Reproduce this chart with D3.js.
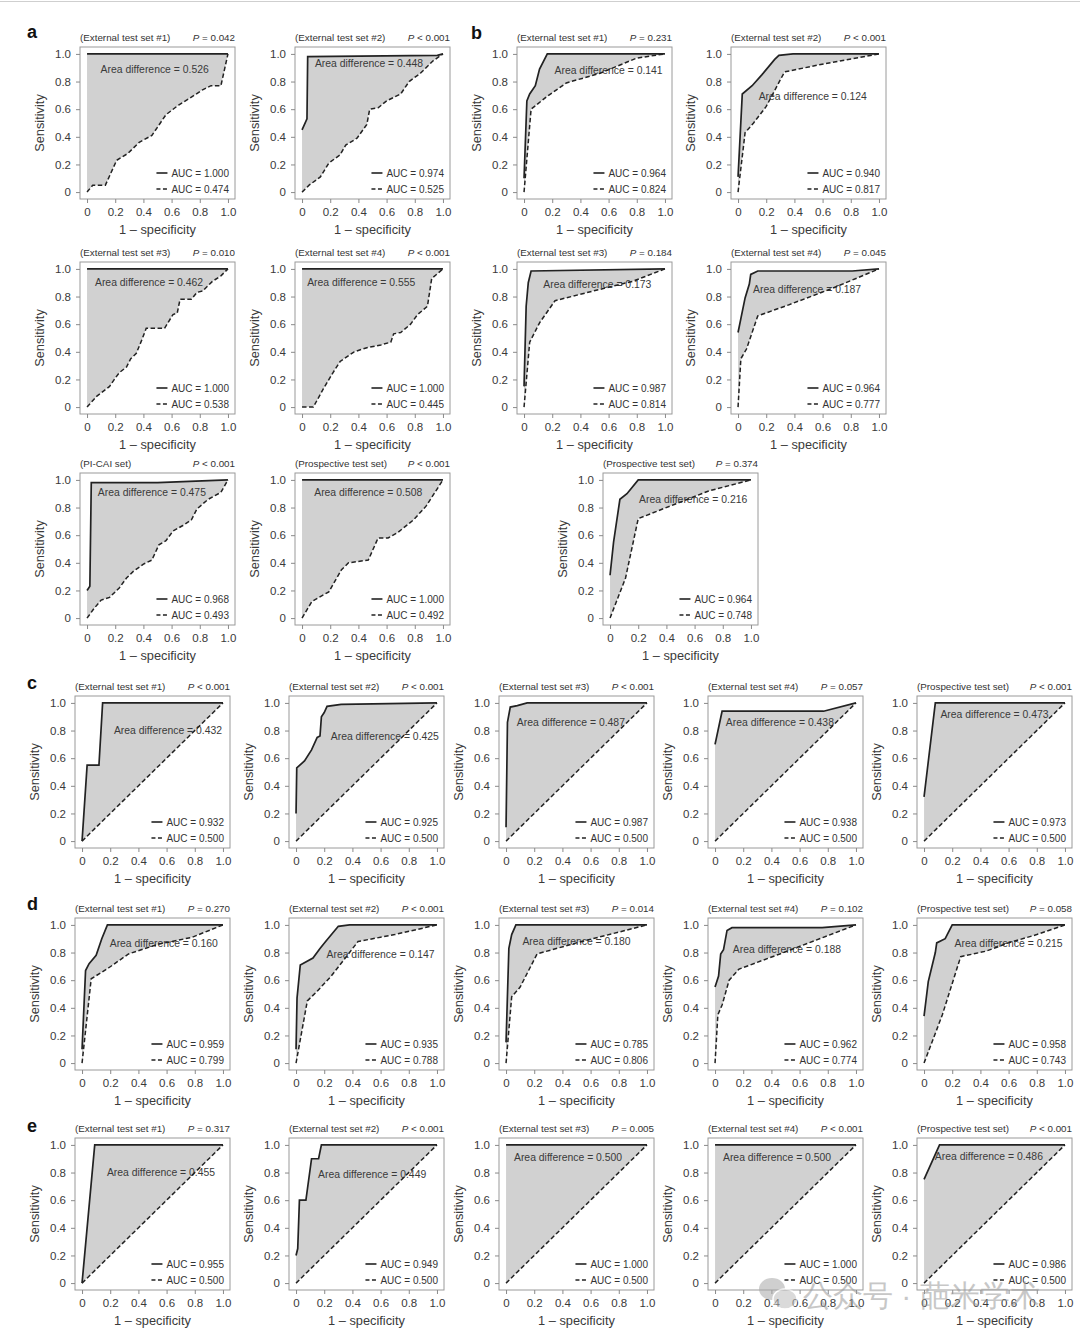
<!DOCTYPE html>
<html>
<head>
<meta charset="utf-8">
<script src="https://cdn.jsdelivr.net/npm/d3@7/dist/d3.min.js"></script>
<style>
body { margin: 0; background: #fff; }
text { font-family: "Liberation Sans", Arial, sans-serif; }
</style>
</head>
<body>
<svg id="fig" width="1080" height="1332"></svg>
<script>
// ---- panel texts ----
var titles = [
	"(External test set #1)", "(External test set #2)", "(External test set #3)", "(External test set #4)", "(PI-CAI set)", "(Prospective test set)",
	"(External test set #1)", "(External test set #2)", "(External test set #3)", "(External test set #4)", "(Prospective test set)",
	"(External test set #1)", "(External test set #2)", "(External test set #3)", "(External test set #4)", "(Prospective test set)",
	"(External test set #1)", "(External test set #2)", "(External test set #3)", "(External test set #4)", "(Prospective test set)",
	"(External test set #1)", "(External test set #2)", "(External test set #3)", "(External test set #4)", "(Prospective test set)"
];
var pValues = [
	"= 0.042", "< 0.001", "= 0.010", "< 0.001", "< 0.001", "< 0.001",
	"= 0.231", "< 0.001", "= 0.184", "= 0.045", "= 0.374",
	"< 0.001", "< 0.001", "< 0.001", "= 0.057", "< 0.001",
	"= 0.270", "< 0.001", "= 0.014", "= 0.102", "= 0.058",
	"= 0.317", "< 0.001", "= 0.005", "< 0.001", "< 0.001"
];
var aucSolid = [1.000, 0.974, 1.000, 1.000, 0.968, 1.000,
	0.964, 0.940, 0.987, 0.964, 0.964,
	0.932, 0.925, 0.987, 0.938, 0.973,
	0.959, 0.935, 0.785, 0.962, 0.958,
	0.955, 0.949, 1.000, 1.000, 0.986];
var aucDashed = [0.474, 0.525, 0.538, 0.445, 0.493, 0.492,
	0.824, 0.817, 0.814, 0.777, 0.748,
	0.500, 0.500, 0.500, 0.500, 0.500,
	0.799, 0.788, 0.806, 0.774, 0.743,
	0.500, 0.500, 0.500, 0.500, 0.500];
var areaDiff = [0.526, 0.448, 0.462, 0.555, 0.475, 0.508,
	0.141, 0.124, 0.173, 0.187, 0.216,
	0.432, 0.425, 0.487, 0.438, 0.473,
	0.160, 0.147, 0.180, 0.188, 0.215,
	0.455, 0.449, 0.500, 0.500, 0.486];

// ---- ROC points [1 - specificity, sensitivity] ----
var perfect = [[0, 1], [1, 1]];
var chance = [[0, 0], [1, 1]];

var dashA1 = [[0,0],[0.04,0.05],[0.13,0.05],[0.21,0.23],[0.29,0.28],[0.37,0.36],[0.46,0.41],[0.56,0.56],[0.65,0.63],[0.73,0.68],[0.82,0.74],[0.88,0.77],[0.95,0.77],[1,1]];
var solidA2 = [[0,0.45],[0.035,0.53],[0.04,0.98],[0.96,0.99],[1,1]];
var dashA2 = [[0,0],[0.05,0.05],[0.13,0.11],[0.19,0.21],[0.27,0.27],[0.31,0.34],[0.39,0.39],[0.46,0.49],[0.48,0.6],[0.54,0.61],[0.6,0.66],[0.7,0.71],[0.76,0.8],[0.84,0.86],[0.93,0.95],[1,1]];
var dashA3 = [[0,0],[0.07,0.08],[0.16,0.15],[0.2,0.21],[0.23,0.25],[0.28,0.29],[0.31,0.35],[0.35,0.39],[0.39,0.49],[0.42,0.57],[0.55,0.57],[0.61,0.67],[0.64,0.68],[0.66,0.78],[0.74,0.78],[0.78,0.83],[0.82,0.84],[0.89,0.91],[0.95,0.95],[1,1]];
var dashA4 = [[0,0],[0.08,0],[0.15,0.13],[0.22,0.25],[0.27,0.33],[0.37,0.4],[0.46,0.43],[0.56,0.45],[0.63,0.47],[0.65,0.53],[0.7,0.54],[0.77,0.6],[0.82,0.67],[0.89,0.73],[0.92,0.93],[1,1]];
var solidA5 = [[0,0.2],[0.02,0.23],[0.03,0.98],[0.5,0.98],[1,1]];
var dashA5 = [[0,0],[0.05,0.07],[0.1,0.13],[0.16,0.15],[0.23,0.22],[0.28,0.29],[0.33,0.34],[0.4,0.39],[0.46,0.42],[0.51,0.53],[0.56,0.56],[0.61,0.63],[0.68,0.67],[0.74,0.71],[0.78,0.79],[0.86,0.86],[0.95,0.91],[1,1]];
var dashA6 = [[0,0],[0.07,0.12],[0.19,0.19],[0.28,0.35],[0.33,0.4],[0.47,0.42],[0.54,0.58],[0.61,0.58],[0.68,0.62],[0.79,0.71],[0.88,0.81],[1,1]];

var solidB1 = [[0,0.1],[0.02,0.66],[0.04,0.71],[0.08,0.77],[0.11,0.89],[0.165,1],[1,1]];
var dashB1 = [[0,0],[0.05,0.6],[0.16,0.69],[0.3,0.79],[0.54,0.86],[0.8,0.97],[1,1]];
var solidB2 = [[0,0.11],[0.03,0.71],[0.1,0.77],[0.17,0.85],[0.26,0.96],[0.29,0.99],[0.39,1],[1,1]];
var dashB2 = [[0,0],[0.05,0.43],[0.11,0.5],[0.2,0.62],[0.33,0.87],[0.62,0.93],[1,1]];
var solidB3 = [[0,0.15],[0.015,0.73],[0.03,0.9],[0.05,0.985],[1,1]];
var dashB3 = [[0,0],[0.04,0.47],[0.11,0.61],[0.22,0.77],[0.49,0.84],[0.77,0.91],[1,1]];
var solidB4 = [[0,0.54],[0.02,0.64],[0.05,0.79],[0.08,0.89],[0.09,0.96],[0.14,0.985],[0.81,0.985],[1,1]];
var dashB4 = [[0,0],[0.02,0.35],[0.06,0.42],[0.14,0.66],[0.36,0.74],[0.67,0.86],[1,1]];
var solidB5 = [[0,0.31],[0.025,0.55],[0.07,0.86],[0.12,0.9],[0.2,1],[1,1]];
var dashB5 = [[0,0],[0.11,0.29],[0.2,0.72],[0.45,0.82],[0.7,0.92],[1,1]];

var solidC1 = [[0,0],[0.036,0.55],[0.12,0.55],[0.146,1],[1,1]];
var solidC2 = [[0,0.2],[0.005,0.53],[0.06,0.58],[0.11,0.66],[0.15,0.75],[0.17,0.76],[0.18,0.9],[0.2,0.93],[0.22,0.975],[0.32,0.99],[1,1]];
var solidC3 = [[0,0.1],[0.01,0.86],[0.03,0.97],[0.08,0.98],[0.15,1],[1,1]];
var solidC4 = [[0,0.7],[0.05,0.94],[0.77,0.94],[1,1]];
var solidC5 = [[0,0.32],[0.08,1],[1,1]];

var solidD1 = [[0,0.1],[0.025,0.67],[0.05,0.72],[0.1,0.78],[0.14,0.9],[0.18,1],[1,1]];
var dashD1 = [[0,0],[0.065,0.61],[0.19,0.69],[0.33,0.79],[0.54,0.86],[0.78,0.91],[1,1]];
var solidD2 = [[0,0.1],[0.007,0.47],[0.03,0.71],[0.12,0.76],[0.17,0.83],[0.21,0.88],[0.3,0.99],[0.38,1],[1,1]];
var dashD2 = [[0,0],[0.08,0.45],[0.15,0.52],[0.25,0.63],[0.44,0.88],[0.7,0.93],[1,1]];
var solidD3 = [[0,0.15],[0.02,0.83],[0.04,0.93],[0.07,1],[1,1]];
var dashD3 = [[0,0],[0.04,0.48],[0.1,0.55],[0.22,0.79],[0.5,0.87],[1,1]];
var solidD4 = [[0,0.55],[0.025,0.63],[0.04,0.79],[0.06,0.82],[0.085,0.96],[0.12,0.98],[0.76,0.98],[1,1]];
var dashD4 = [[0,0],[0.02,0.35],[0.05,0.42],[0.1,0.6],[0.17,0.68],[0.46,0.79],[1,1]];
var solidD5 = [[0,0.34],[0.03,0.59],[0.08,0.8],[0.09,0.87],[0.15,0.9],[0.2,1],[1,1]];
var dashD5 = [[0,0],[0.13,0.35],[0.26,0.77],[0.44,0.81],[0.6,0.87],[0.8,0.93],[1,1]];

var solidE1 = [[0,0],[0.09,1],[1,1]];
var solidE2 = [[0,0.2],[0.012,0.25],[0.024,0.6],[0.07,0.6],[0.11,0.9],[0.16,0.9],[0.18,1],[1,1]];
var solidE5 = [[0,0.75],[0.11,1],[1,1]];

var solidCurves = [perfect, solidA2, perfect, perfect, solidA5, perfect,
	solidB1, solidB2, solidB3, solidB4, solidB5,
	solidC1, solidC2, solidC3, solidC4, solidC5,
	solidD1, solidD2, solidD3, solidD4, solidD5,
	solidE1, solidE2, perfect, perfect, solidE5];
var dashedCurves = [dashA1, dashA2, dashA3, dashA4, dashA5, dashA6,
	dashB1, dashB2, dashB3, dashB4, dashB5,
	chance, chance, chance, chance, chance,
	dashD1, dashD2, dashD3, dashD4, dashD5,
	chance, chance, chance, chance, chance];

var axisTicks = [0, 0.2, 0.4, 0.6, 0.8, 1.0];

// ---- layout (frame top-left of each panel, label spots in data units) ----
var panelX = [80, 295, 80, 295, 80, 295,
	517, 731, 517, 731, 603,
	75, 289, 499, 708, 917,
	75, 289, 499, 708, 917,
	75, 289, 499, 708, 917];
var panelY = [47, 47, 262, 262, 473, 473,
	47, 47, 262, 262, 473,
	696, 696, 696, 696, 696,
	918, 918, 918, 918, 918,
	1138, 1138, 1138, 1138, 1138];
var diffPos = [[0.48,0.89],[0.475,0.93],[0.44,0.9],[0.42,0.9],[0.46,0.91],[0.47,0.91],
	[0.6,0.88],[0.53,0.69],[0.52,0.89],[0.49,0.85],[0.59,0.86],
	[0.61,0.8],[0.63,0.76],[0.46,0.86],[0.46,0.86],[0.5,0.92],
	[0.58,0.87],[0.6,0.79],[0.5,0.88],[0.51,0.82],[0.6,0.87],
	[0.56,0.8],[0.54,0.79],[0.44,0.91],[0.44,0.91],[0.46,0.92]];
var letters = [["a", 27, 38], ["b", 471, 39], ["c", 27, 689], ["d", 27, 910], ["e", 27, 1132]];

var svg = d3.select("#fig");
var W = 155, H = 152;
var f3 = d3.format(".3f");
var tickFmt = function(d) { return d === 0 ? "0" : d3.format(".1f")(d); };

svg.append("rect").attr("width", 1080).attr("height", 1332).attr("fill", "#fff");
svg.append("line").attr("x1", 0).attr("x2", 1080).attr("y1", 1.5).attr("y2", 1.5)
	.attr("stroke", "#cfcfcf").attr("stroke-width", 1);

for (var i = 0; i < titles.length; i++) {
	drawPanel(i);
}

function drawPanel(i) {
	var g = svg.append("g").attr("transform", "translate(" + panelX[i] + "," + panelY[i] + ")");
	var x = d3.scaleLinear().domain([-0.05, 1.05]).range([0, W]);
	var y = d3.scaleLinear().domain([-0.05, 1.05]).range([H, 0]);
	var line = d3.line().x(function(d) { return x(d[0]); }).y(function(d) { return y(d[1]); });

	var solid = solidCurves[i], dashed = dashedCurves[i];
	// shaded area between the two curves
	g.append("path")
		.attr("d", line(solid.concat(dashed.slice().reverse())) + "Z")
		.attr("fill", "#d1d1d1");

	g.append("text")
		.attr("x", x(diffPos[i][0])).attr("y", y(diffPos[i][1]))
		.attr("dy", "0.35em").attr("text-anchor", "middle")
		.attr("font-size", 10.4).attr("fill", "#3a3a3a")
		.text("Area difference = " + f3(areaDiff[i]));

	g.append("path").attr("d", line(dashed))
		.attr("fill", "none").attr("stroke", "#222").attr("stroke-width", 1.5)
		.attr("stroke-dasharray", "4.5,2.5");
	g.append("path").attr("d", line(solid))
		.attr("fill", "none").attr("stroke", "#222").attr("stroke-width", 1.7);

	g.append("rect").attr("width", W).attr("height", H)
		.attr("fill", "none").attr("stroke", "#9a9a9a").attr("stroke-width", 1);

	var xa = g.append("g").attr("transform", "translate(0," + H + ")")
		.call(d3.axisBottom(x).tickValues(axisTicks).tickFormat(tickFmt).tickSize(4).tickPadding(5));
	var ya = g.append("g")
		.call(d3.axisLeft(y).tickValues(axisTicks).tickFormat(tickFmt).tickSize(4).tickPadding(5));
	[xa, ya].forEach(function(a) {
		a.select(".domain").remove();
		a.selectAll(".tick line").attr("stroke", "#8a8a8a");
		a.selectAll(".tick text").attr("fill", "#3a3a3a").attr("font-size", 11.5)
			.attr("font-family", "Liberation Sans, Arial, sans-serif");
	});

	// title and P value
	g.append("text").attr("x", 0).attr("y", -6).attr("font-size", 9.8).attr("fill", "#333")
		.text(titles[i]);
	var pt = g.append("text").attr("x", W).attr("y", -6).attr("text-anchor", "end")
		.attr("font-size", 9.8).attr("fill", "#333");
	pt.append("tspan").attr("font-style", "italic").text("P");
	pt.append("tspan").text(" " + pValues[i]);

	// axis titles
	g.append("text").attr("transform", "translate(-36," + (H / 2) + ") rotate(-90)")
		.attr("text-anchor", "middle").attr("font-size", 12.8).attr("fill", "#3a3a3a")
		.text("Sensitivity");
	g.append("text").attr("x", W / 2).attr("y", H + 35).attr("text-anchor", "middle")
		.attr("font-size", 12.8).attr("fill", "#3a3a3a")
		.text("1 \u2013 specificity");

	// legend
	var legVals = [aucSolid[i], aucDashed[i]];
	legVals.forEach(function(v, k) {
		var ly = H - 26 + k * 16;
		var t = g.append("text").attr("x", W - 6).attr("y", ly).attr("dy", "0.35em")
			.attr("text-anchor", "end").attr("font-size", 10).attr("fill", "#333")
			.text("AUC = " + f3(v));
		var len = t.node().getComputedTextLength();
		g.append("line")
			.attr("x1", W - 6 - len - 15).attr("x2", W - 6 - len - 4)
			.attr("y1", ly).attr("y2", ly)
			.attr("stroke", "#222").attr("stroke-width", 1.6)
			.attr("stroke-dasharray", k === 1 ? "4,2.5" : null);
	});
}

// panel letters
svg.selectAll(".letter").data(letters).enter().append("text")
	.attr("class", "letter")
	.attr("x", function(d) { return d[1]; }).attr("y", function(d) { return d[2]; })
	.attr("font-size", 18).attr("font-weight", "bold").attr("fill", "#111")
	.text(function(d) { return d[0]; });

// watermark
var wm = svg.append("g").attr("opacity", 0.55);
wm.append("ellipse").attr("cx", 772).attr("cy", 1289).attr("rx", 13).attr("ry", 11).attr("fill", "#a8a8a8");
wm.append("ellipse").attr("cx", 785).attr("cy", 1299).attr("rx", 12).attr("ry", 10).attr("fill", "#bdbdbd")
	.attr("stroke", "#fff").attr("stroke-width", 1.5);
wm.append("text").attr("x", 803).attr("y", 1306).attr("font-size", 30)
	.attr("font-family", "Noto Sans CJK SC").attr("fill", "#9a9a9a")
	.text("公众号 · 葩米学术");
</script>
</body>
</html>
